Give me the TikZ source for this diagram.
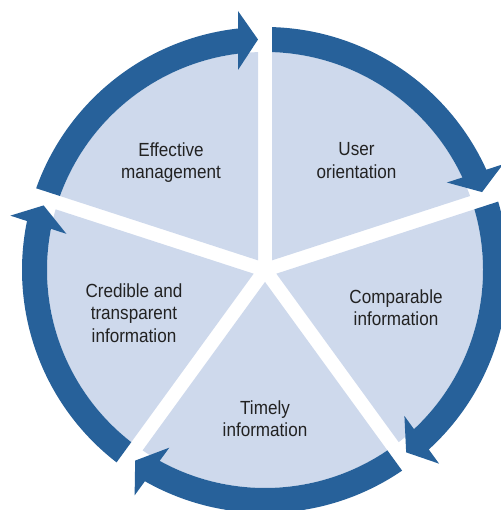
\documentclass[tikz,border=0pt]{standalone}
\usepackage{fontspec}
\setmainfont{Liberation Sans}[FakeStretch=0.9]
\definecolor{ringblue}{HTML}{27619A}
\definecolor{diskblue}{HTML}{CED9EC}
\definecolor{textgray}{HTML}{222222}
\begin{document}
\begin{tikzpicture}[x=1pt,y=1pt,
  sector/.style={fill=diskblue},
  ringarrow/.style={fill=ringblue},
  lbl/.style={align=center, text=textgray, inner sep=0pt,
    font=\fontsize{19}{22.5}\selectfont}]
\useasboundingbox (0,0) rectangle (500,510);
\coordinate (c) at (265,240);
% light sectors separated by white gaps
\foreach \a in {90,18,-54,-126,-198} {
  \begin{scope}[shift={(c)}]
    \fill[sector] ({\a-36}:11.91) -- ({\a-1.84}:218pt)
      arc[start angle={\a-1.84}, end angle={\a-70.16}, radius=218pt] -- cycle;
  \end{scope}
}
% ring of arrows
\foreach \r in {0,-72,-144,-216,-288} {
  \begin{scope}[shift={(c)}, rotate=\r]
    \fill[ringarrow] (160.35:243pt)
      arc[start angle=160.35, end angle=96.38, radius=243pt]
      -- (-27,259) -- (-7,230.5) -- (-27,200) -- (97.11:218pt)
      arc[start angle=97.11, end angle=160.16, radius=218pt] -- cycle;
  \end{scope}
}
% labels
\node[lbl] (eff) at (171,347.5) {Effective\\management};
\node[lbl] (usr) at (356.5,349.2) {User\\orientation};
\node[lbl] (cmp) at (396,202.2) {Comparable\\information};
\node[lbl] (cred) at (134,197) {Credible and\\transparent\\information};
\node[lbl] (tim) at (265,91.2) {Timely\\information};
\end{tikzpicture}
\end{document}
